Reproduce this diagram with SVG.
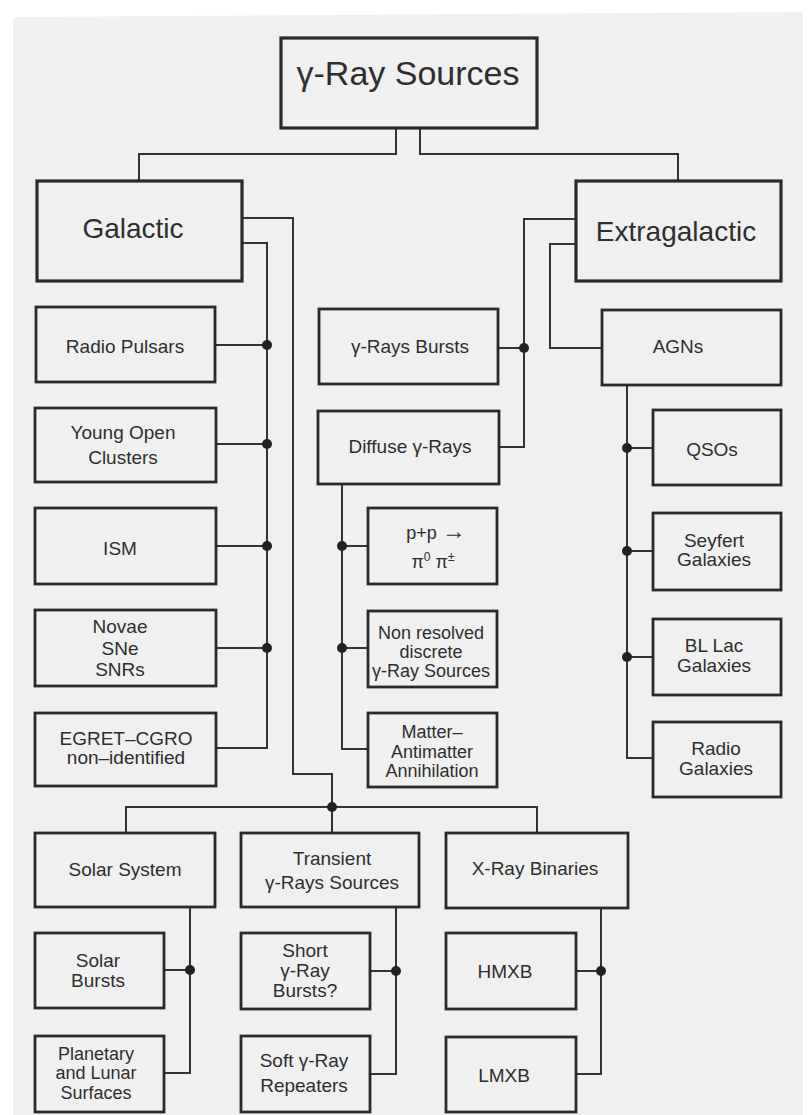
<svg xmlns="http://www.w3.org/2000/svg" width="811" height="1115" viewBox="0 0 811 1115">
<style>
.box{fill:none;stroke:#2a2a2a;stroke-width:2.8}
.big{stroke-width:3.2}
.ln{fill:none;stroke:#333;stroke-width:2}
.dot{fill:#222}
text{font-family:"Liberation Sans",Arial,sans-serif;fill:#2e2e2e;text-anchor:middle}
.t1{font-size:34px}
.t2{font-size:28px}
.t3{font-size:19px}
.t4{font-size:18px}
</style>
<rect x="0" y="0" width="811" height="1115" fill="#ffffff"/>
<polygon points="13,17 803,12 803,1115 13,1115" fill="#f0f0f0"/>

<g id="connectors">
<path class="ln" d="M396,128 V154 H139 V181"/>
<path class="ln" d="M420,128 V154 H678 V181"/>
<path class="ln" d="M242,243 H267 V748 H216"/>
<path class="ln" d="M215,345 H267 M216,444 H267 M216,546 H267 M216,648 H267"/>
<path class="ln" d="M242,218 H293 V774 H332 V833"/>
<path class="ln" d="M126,833 V807 H537 V833"/>
<path class="ln" d="M576,219 H524 V447 H499"/>
<path class="ln" d="M498,348 H524"/>
<path class="ln" d="M576,244 H550 V348 H602"/>
<path class="ln" d="M627,385 V758 H653"/>
<path class="ln" d="M627,448 H653 M627,551 H653 M627,657 H653"/>
<path class="ln" d="M342,484 V749 H368"/>
<path class="ln" d="M342,546 H368 M342,648 H368"/>
<path class="ln" d="M190,907 V1073 H164 M164,970 H190"/>
<path class="ln" d="M396,907 V1074 H370 M370,971 H396"/>
<path class="ln" d="M601,908 V1074 H576 M576,971 H601"/>
<circle class="dot" cx="267" cy="345" r="5"/>
<circle class="dot" cx="267" cy="444" r="5"/>
<circle class="dot" cx="267" cy="546" r="5"/>
<circle class="dot" cx="267" cy="648" r="5"/>
<circle class="dot" cx="332" cy="807" r="5"/>
<circle class="dot" cx="524" cy="348" r="5"/>
<circle class="dot" cx="627" cy="448" r="5"/>
<circle class="dot" cx="627" cy="551" r="5"/>
<circle class="dot" cx="627" cy="657" r="5"/>
<circle class="dot" cx="342" cy="546" r="5"/>
<circle class="dot" cx="342" cy="648" r="5"/>
<circle class="dot" cx="190" cy="970" r="5"/>
<circle class="dot" cx="396" cy="971" r="5"/>
<circle class="dot" cx="601" cy="971" r="5"/>
</g>

<g id="root"><rect class="box big" x="281" y="38" width="256" height="90"/><text class="t1" x="408" y="85">γ-Ray Sources</text></g>
<g id="galactic"><rect class="box big" x="37" y="181" width="205" height="100"/><text class="t2" x="133" y="238">Galactic</text></g>
<g id="extragalactic"><rect class="box big" x="576" y="181" width="205" height="100"/><text class="t2" x="676" y="241">Extragalactic</text></g>

<g id="radio-pulsars"><rect class="box" x="36" y="307" width="179" height="75"/><text class="t3" x="125" y="353">Radio Pulsars</text></g>
<g id="young-open-clusters"><rect class="box" x="35" y="408" width="181" height="74"/><text class="t3" x="123" y="439">Young Open</text><text class="t3" x="123" y="464">Clusters</text></g>
<g id="ism"><rect class="box" x="35" y="508" width="181" height="76"/><text class="t3" x="120" y="555">ISM</text></g>
<g id="novae"><rect class="box" x="35" y="610" width="181" height="76"/><text class="t3" x="120" y="633">Novae</text><text class="t3" x="120" y="655">SNe</text><text class="t3" x="120" y="676">SNRs</text></g>
<g id="egret"><rect class="box" x="35" y="713" width="181" height="73"/><text class="t3" x="126" y="745">EGRET–CGRO</text><text class="t3" x="126" y="764">non–identified</text></g>

<g id="gamma-bursts"><rect class="box" x="319" y="309" width="179" height="75"/><text class="t3" x="410" y="353">γ-Rays Bursts</text></g>
<g id="diffuse"><rect class="box" x="318" y="411" width="181" height="73"/><text class="t3" x="410" y="453">Diffuse γ-Rays</text></g>
<g id="pp"><rect class="box" x="368" y="508" width="129" height="76"/><text class="t4" x="436" y="539">p+p <tspan font-size="24">→</tspan></text><text class="t4" x="433" y="568">π<tspan font-size="12" dy="-7">0</tspan><tspan dy="7"> π</tspan><tspan font-size="12" dy="-7">±</tspan></text></g>
<g id="non-resolved"><rect class="box" x="368" y="611" width="129" height="76"/><text class="t4" x="431" y="639">Non resolved</text><text class="t4" x="431" y="658">discrete</text><text class="t4" x="431" y="677">γ-Ray Sources</text></g>
<g id="matter"><rect class="box" x="368" y="713" width="129" height="74"/><text class="t4" x="432" y="738">Matter–</text><text class="t4" x="432" y="758">Antimatter</text><text class="t4" x="432" y="777">Annihilation</text></g>

<g id="agns"><rect class="box" x="602" y="310" width="179" height="75"/><text class="t3" x="678" y="353">AGNs</text></g>
<g id="qsos"><rect class="box" x="653" y="410" width="128" height="75"/><text class="t3" x="712" y="456">QSOs</text></g>
<g id="seyfert"><rect class="box" x="653" y="513" width="128" height="77"/><text class="t3" x="714" y="547">Seyfert</text><text class="t3" x="714" y="566">Galaxies</text></g>
<g id="bllac"><rect class="box" x="653" y="619" width="128" height="76"/><text class="t3" x="714" y="652">BL Lac</text><text class="t3" x="714" y="672">Galaxies</text></g>
<g id="radio-galaxies"><rect class="box" x="653" y="722" width="128" height="75"/><text class="t3" x="716" y="755">Radio</text><text class="t3" x="716" y="775">Galaxies</text></g>

<g id="solar-system"><rect class="box" x="35" y="833" width="180" height="74"/><text class="t3" x="125" y="876">Solar System</text></g>
<g id="transient"><rect class="box" x="241" y="833" width="178" height="74"/><text class="t3" x="332" y="865">Transient</text><text class="t3" x="332" y="889">γ-Rays Sources</text></g>
<g id="xray-binaries"><rect class="box" x="446" y="833" width="182" height="75"/><text class="t3" x="535" y="875">X-Ray Binaries</text></g>

<g id="solar-bursts"><rect class="box" x="35" y="933" width="129" height="75"/><text class="t3" x="98" y="967">Solar</text><text class="t3" x="98" y="987">Bursts</text></g>
<g id="planetary"><rect class="box" x="35" y="1036" width="129" height="76"/><text class="t4" x="96" y="1060">Planetary</text><text class="t4" x="96" y="1079">and Lunar</text><text class="t4" x="96" y="1099">Surfaces</text></g>
<g id="short-bursts"><rect class="box" x="241" y="933" width="129" height="76"/><text class="t3" x="305" y="957">Short</text><text class="t3" x="305" y="977">γ-Ray</text><text class="t3" x="305" y="997">Bursts?</text></g>
<g id="soft-repeaters"><rect class="box" x="241" y="1036" width="129" height="76"/><text class="t3" x="304" y="1067">Soft γ-Ray</text><text class="t3" x="304" y="1092">Repeaters</text></g>
<g id="hmxb"><rect class="box" x="446" y="933" width="130" height="76"/><text class="t3" x="505" y="978">HMXB</text></g>
<g id="lmxb"><rect class="box" x="446" y="1037" width="130" height="75"/><text class="t3" x="504" y="1082">LMXB</text></g>
</svg>
